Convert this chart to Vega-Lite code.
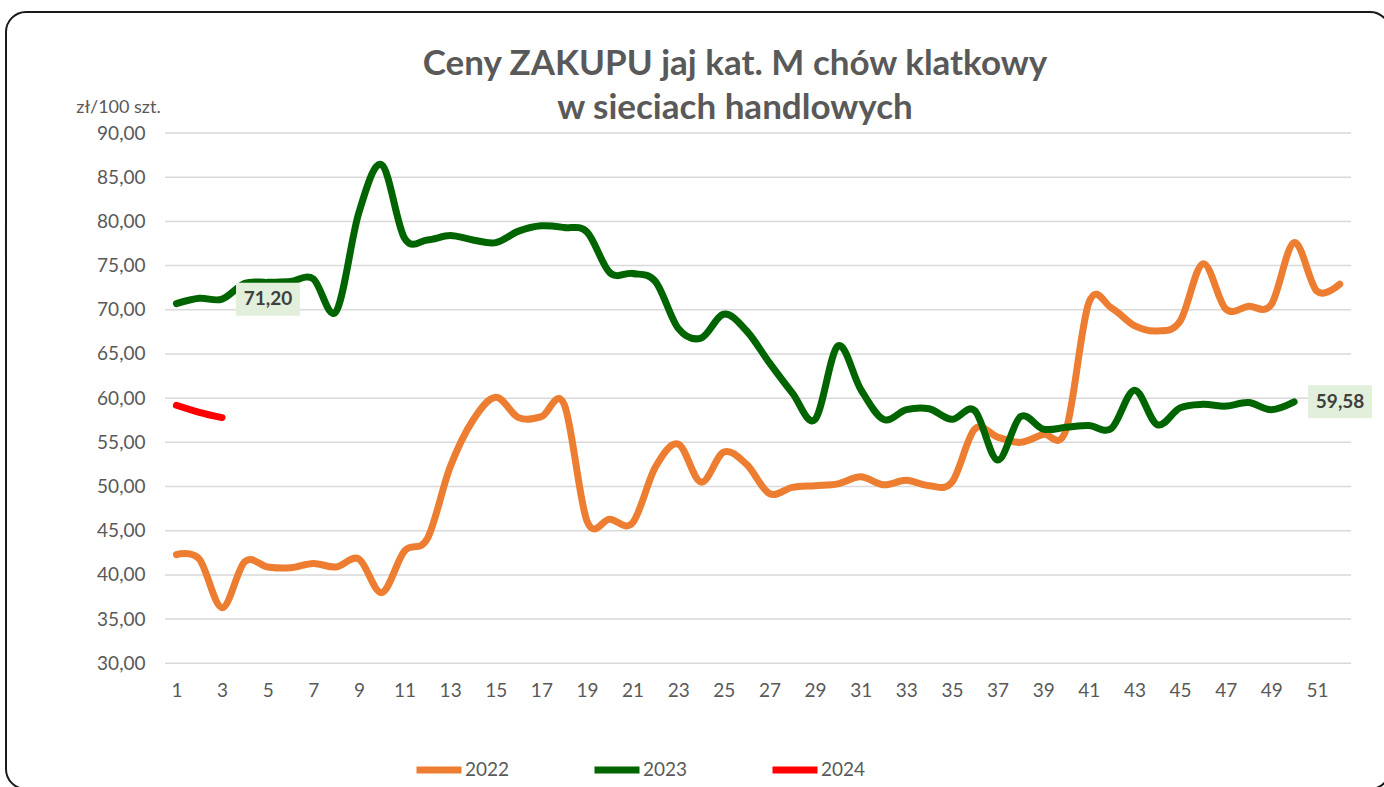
{
  "$schema": "https://vega.github.io/schema/vega-lite/v6.json",
  "width": 1384,
  "height": 777,
  "autosize": {"type": "none"},
  "padding": {"left": 6, "top": 12, "right": -6, "bottom": -2},
  "background": "white",
  "config": {
    "font": "Lato",
    "view": {"stroke": "#1a1a1a", "strokeWidth": 2, "cornerRadius": 20, "fill": "white"}
  },
  "title": {
    "text": ["Ceny ZAKUPU jaj kat. M chów klatkowy", "w sieciach handlowych"],
    "anchor": "middle",
    "frame": "group",
    "font": "Lato",
    "fontSize": 35,
    "fontWeight": "bold",
    "color": "#595959",
    "lineHeight": 44,
    "baseline": "alphabetic",
    "offset": 0,
    "dx": 37,
    "dy": 142
  },
  "datasets": {
    "series": [
      {"year": "2022", "week": 1, "price": 42.3}, {"year": "2022", "week": 2, "price": 41.8}, {"year": "2022", "week": 3, "price": 36.3}, {"year": "2022", "week": 4, "price": 41.5},
      {"year": "2022", "week": 5, "price": 40.9}, {"year": "2022", "week": 6, "price": 40.8}, {"year": "2022", "week": 7, "price": 41.3}, {"year": "2022", "week": 8, "price": 40.9},
      {"year": "2022", "week": 9, "price": 41.8}, {"year": "2022", "week": 10, "price": 38.0}, {"year": "2022", "week": 11, "price": 42.7}, {"year": "2022", "week": 12, "price": 44.1},
      {"year": "2022", "week": 13, "price": 52.2}, {"year": "2022", "week": 14, "price": 57.5}, {"year": "2022", "week": 15, "price": 60.1}, {"year": "2022", "week": 16, "price": 57.8},
      {"year": "2022", "week": 17, "price": 57.9}, {"year": "2022", "week": 18, "price": 59.3}, {"year": "2022", "week": 19, "price": 46.1}, {"year": "2022", "week": 20, "price": 46.3},
      {"year": "2022", "week": 21, "price": 45.9}, {"year": "2022", "week": 22, "price": 52.2}, {"year": "2022", "week": 23, "price": 54.8}, {"year": "2022", "week": 24, "price": 50.5},
      {"year": "2022", "week": 25, "price": 53.9}, {"year": "2022", "week": 26, "price": 52.5}, {"year": "2022", "week": 27, "price": 49.2}, {"year": "2022", "week": 28, "price": 49.9},
      {"year": "2022", "week": 29, "price": 50.1}, {"year": "2022", "week": 30, "price": 50.3}, {"year": "2022", "week": 31, "price": 51.1}, {"year": "2022", "week": 32, "price": 50.2},
      {"year": "2022", "week": 33, "price": 50.7}, {"year": "2022", "week": 34, "price": 50.1}, {"year": "2022", "week": 35, "price": 50.5}, {"year": "2022", "week": 36, "price": 56.5},
      {"year": "2022", "week": 37, "price": 55.6}, {"year": "2022", "week": 38, "price": 55.0}, {"year": "2022", "week": 39, "price": 55.9}, {"year": "2022", "week": 40, "price": 56.4},
      {"year": "2022", "week": 41, "price": 70.8}, {"year": "2022", "week": 42, "price": 70.2}, {"year": "2022", "week": 43, "price": 68.2}, {"year": "2022", "week": 44, "price": 67.6},
      {"year": "2022", "week": 45, "price": 68.7}, {"year": "2022", "week": 46, "price": 75.2}, {"year": "2022", "week": 47, "price": 70.1}, {"year": "2022", "week": 48, "price": 70.4},
      {"year": "2022", "week": 49, "price": 70.6}, {"year": "2022", "week": 50, "price": 77.6}, {"year": "2022", "week": 51, "price": 72.1}, {"year": "2022", "week": 52, "price": 72.9},
      {"year": "2023", "week": 1, "price": 70.7}, {"year": "2023", "week": 2, "price": 71.3}, {"year": "2023", "week": 3, "price": 71.2}, {"year": "2023", "week": 4, "price": 73.0},
      {"year": "2023", "week": 5, "price": 73.1}, {"year": "2023", "week": 6, "price": 73.2}, {"year": "2023", "week": 7, "price": 73.5}, {"year": "2023", "week": 8, "price": 69.8},
      {"year": "2023", "week": 9, "price": 81.0}, {"year": "2023", "week": 10, "price": 86.4}, {"year": "2023", "week": 11, "price": 78.1}, {"year": "2023", "week": 12, "price": 77.9},
      {"year": "2023", "week": 13, "price": 78.4}, {"year": "2023", "week": 14, "price": 77.9}, {"year": "2023", "week": 15, "price": 77.6}, {"year": "2023", "week": 16, "price": 78.9},
      {"year": "2023", "week": 17, "price": 79.5}, {"year": "2023", "week": 18, "price": 79.3}, {"year": "2023", "week": 19, "price": 78.8}, {"year": "2023", "week": 20, "price": 74.2},
      {"year": "2023", "week": 21, "price": 74.1}, {"year": "2023", "week": 22, "price": 73.2}, {"year": "2023", "week": 23, "price": 67.9}, {"year": "2023", "week": 24, "price": 66.8},
      {"year": "2023", "week": 25, "price": 69.5}, {"year": "2023", "week": 26, "price": 67.6}, {"year": "2023", "week": 27, "price": 64.0}, {"year": "2023", "week": 28, "price": 60.6},
      {"year": "2023", "week": 29, "price": 57.6}, {"year": "2023", "week": 30, "price": 65.9}, {"year": "2023", "week": 31, "price": 61.0}, {"year": "2023", "week": 32, "price": 57.6},
      {"year": "2023", "week": 33, "price": 58.7}, {"year": "2023", "week": 34, "price": 58.8}, {"year": "2023", "week": 35, "price": 57.6}, {"year": "2023", "week": 36, "price": 58.6},
      {"year": "2023", "week": 37, "price": 53.0}, {"year": "2023", "week": 38, "price": 57.9}, {"year": "2023", "week": 39, "price": 56.5}, {"year": "2023", "week": 40, "price": 56.7},
      {"year": "2023", "week": 41, "price": 56.9}, {"year": "2023", "week": 42, "price": 56.6}, {"year": "2023", "week": 43, "price": 60.9}, {"year": "2023", "week": 44, "price": 57.0},
      {"year": "2023", "week": 45, "price": 58.9}, {"year": "2023", "week": 46, "price": 59.3}, {"year": "2023", "week": 47, "price": 59.1}, {"year": "2023", "week": 48, "price": 59.5},
      {"year": "2023", "week": 49, "price": 58.7}, {"year": "2023", "week": 50, "price": 59.58},
      {"year": "2024", "week": 1, "price": 59.2}, {"year": "2024", "week": 2, "price": 58.4}, {"year": "2024", "week": 3, "price": 57.8}
    ],
    "grid": [
      {"v": 30}, {"v": 35}, {"v": 40}, {"v": 45}, {"v": 50}, {"v": 55}, {"v": 60},
      {"v": 65}, {"v": 70}, {"v": 75}, {"v": 80}, {"v": 85}, {"v": 90}
    ],
    "labels": [
      {"week": 3, "price": 71.2, "label": "71,20"},
      {"week": 50, "price": 59.58, "label": "59,58"}
    ]
  },
  "layer": [
    {
      "data": {"name": "grid"},
      "mark": {"type": "rule", "color": "#D9D9D9", "strokeWidth": 1.5},
      "encoding": {
        "y": {"field": "v", "type": "quantitative", "scale": {"domain": [15.78, 103.69], "nice": false, "zero": false},
          "axis": {
            "orient": "left", "offset": -159, "values": [30, 35, 40, 45, 50, 55, 60, 65, 70, 75, 80, 85, 90],
            "labelExpr": "replace(format(datum.value, '.2f'), '.', ',')",
            "grid": false, "ticks": false, "domain": false, "labelPadding": 20,
            "labelFontSize": 19, "labelColor": "#595959", "labelFont": "Lato",
            "title": "zł/100 szt.", "titleAngle": 0, "titleAlign": "center", "titleBaseline": "middle",
            "titleX": -47, "titleY": 95, "titleFontSize": 18, "titleFontWeight": "normal", "titleColor": "#595959", "titleFont": "Lato"
          }
        },
        "x": {"datum": 0.5, "type": "quantitative", "scale": {"domain": [-6.471, 54.204], "nice": false, "zero": false},
          "axis": {
            "orient": "bottom", "offset": -125.7, "values": [1, 3, 5, 7, 9, 11, 13, 15, 17, 19, 21, 23, 25, 27, 29, 31, 33, 35, 37, 39, 41, 43, 45, 47, 49, 51],
            "grid": false, "ticks": false, "domain": false, "labelPadding": 18,
            "labelFontSize": 19, "labelColor": "#595959", "labelFont": "Lato", "title": null
          }
        },
        "x2": {"datum": 52.5}
      }
    },
    {
      "data": {"name": "series"},
      "mark": {"type": "line", "strokeWidth": 7, "interpolate": "cardinal", "strokeCap": "round", "strokeJoin": "round"},
      "encoding": {
        "x": {"field": "week", "type": "quantitative"},
        "y": {"field": "price", "type": "quantitative"},
        "color": {
          "field": "year", "type": "nominal",
          "scale": {"domain": ["2022", "2023", "2024"], "range": ["#ED7D31", "#006400", "#FF0000"]},
          "legend": {
            "orient": "none", "legendX": 407, "legendY": 732, "direction": "horizontal", "title": null,
            "symbolType": "stroke", "symbolSize": 2025, "symbolStrokeWidth": 7,
            "labelFontSize": 19, "labelColor": "#595959", "labelFont": "Lato", "labelOffset": 0,
            "columnPadding": 70, "padding": 0
          }
        }
      }
    },
    {
      "data": {"name": "labels"},
      "mark": {"type": "point", "shape": "M0.4375,-0.5156H2.4375V0.5156H0.4375Z", "size": 4096, "filled": true, "fill": "#E2EFDA", "opacity": 1, "strokeWidth": 0},
      "encoding": {
        "x": {"field": "week", "type": "quantitative"},
        "y": {"field": "price", "type": "quantitative"}
      }
    },
    {
      "data": {"name": "labels"},
      "mark": {"type": "text", "dx": 46, "align": "center", "baseline": "middle", "fontSize": 19, "fontWeight": "bold", "color": "#404040", "font": "Lato"},
      "encoding": {
        "x": {"field": "week", "type": "quantitative"},
        "y": {"field": "price", "type": "quantitative"},
        "text": {"field": "label"}
      }
    }
  ]
}
